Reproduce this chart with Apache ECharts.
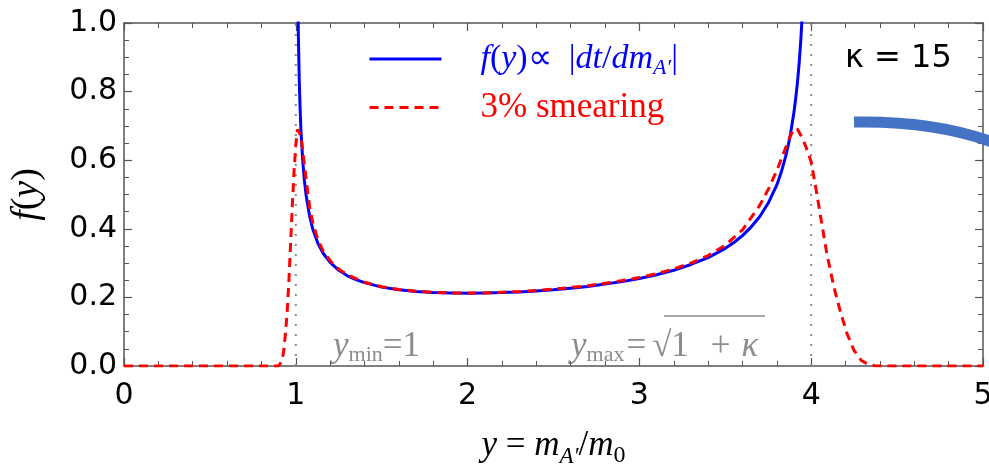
<!DOCTYPE html>
<html>
<head>
<meta charset="utf-8">
<script src="https://cdn.jsdelivr.net/npm/echarts@6/dist/echarts.min.js"></script>
<style>
  html, body { margin: 0; padding: 0; background: #fff; }
  #chart { width: 989px; height: 471px; }
</style>
</head>
<body>
<div id="chart"></div>
<script>
// f(y) ∝ |dt/dm_A'|
const blueX = [1.005, 1.01, 1.015, 1.02, 1.025, 1.03, 1.04, 1.05, 1.06, 1.08, 1.10, 1.13, 1.16, 1.20, 1.25, 1.30, 1.35, 1.40, 1.50, 1.60, 1.70, 1.80, 1.90, 2.00, 2.10, 2.20, 2.30, 2.40, 2.50, 2.60, 2.70, 2.80, 2.90, 3.00, 3.10, 3.20, 3.30, 3.40, 3.50, 3.55, 3.60, 3.65, 3.70, 3.75, 3.80, 3.825, 3.85, 3.865, 3.88, 3.90, 3.91, 3.92, 3.93, 3.94, 3.95, 3.96];
const blueY = [1.650, 1.172, 0.961, 0.835, 0.750, 0.687, 0.600, 0.541, 0.498, 0.438, 0.397, 0.356, 0.328, 0.302, 0.279, 0.263, 0.252, 0.243, 0.230, 0.222, 0.217, 0.214, 0.213, 0.212, 0.213, 0.214, 0.216, 0.219, 0.222, 0.227, 0.232, 0.239, 0.246, 0.255, 0.266, 0.279, 0.296, 0.316, 0.343, 0.360, 0.380, 0.405, 0.435, 0.475, 0.528, 0.564, 0.608, 0.640, 0.678, 0.741, 0.781, 0.827, 0.884, 0.954, 1.044, 1.166];
// 3% smearing
const redX = [0, 0.90, 0.92, 0.93, 0.94, 0.95, 0.96, 0.97, 0.98, 0.99, 1.00, 1.01, 1.02, 1.03, 1.04, 1.06, 1.08, 1.10, 1.13, 1.16, 1.20, 1.25, 1.30, 1.40, 1.50, 1.60, 1.70, 1.80, 1.90, 2.00, 2.10, 2.20, 2.30, 2.40, 2.50, 2.60, 2.70, 2.80, 2.90, 3.00, 3.10, 3.20, 3.30, 3.40, 3.50, 3.60, 3.70, 3.75, 3.80, 3.85, 3.88, 3.90, 3.92, 3.95, 3.98, 4.00, 4.03, 4.06, 4.09, 4.13, 4.17, 4.21, 4.25, 4.29, 4.33, 4.37, 4.40, 5.00];
const redY = [0, 0, 0.015, 0.045, 0.095, 0.16, 0.25, 0.36, 0.47, 0.57, 0.645, 0.69, 0.695, 0.67, 0.63, 0.545, 0.465, 0.415, 0.366, 0.335, 0.307, 0.282, 0.266, 0.244, 0.231, 0.223, 0.218, 0.215, 0.213, 0.213, 0.213, 0.215, 0.217, 0.220, 0.224, 0.229, 0.234, 0.241, 0.249, 0.258, 0.269, 0.283, 0.300, 0.322, 0.352, 0.397, 0.468, 0.515, 0.570, 0.635, 0.672, 0.692, 0.690, 0.663, 0.625, 0.595, 0.51, 0.42, 0.33, 0.235, 0.158, 0.092, 0.045, 0.017, 0.005, 0.001, 0, 0];
// y_min and y_max guides
const guideX = [1, 4];
const xTicks = [0, 1, 2, 3, 4, 5];
const yTicks = [0, 0.2, 0.4, 0.6, 0.8, 1.0];

const chart = echarts.init(document.getElementById("chart"), null, { renderer: "canvas" });

const frameColor = "#555";
const serif = "Liberation Serif";
const gray = "#8c8c8c";

function axisBase(show) {
  return {
    type: "value",
    axisLine: { show: true, onZero: false, lineStyle: { color: frameColor, width: 1.5 } },
    axisTick: { show: true, inside: true, length: 8, lineStyle: { color: frameColor, width: 1.2 } },
    minorTick: { show: true, length: 5, lineStyle: { color: frameColor, width: 1 } },
    splitLine: { show: false },
    axisLabel: { show: show, color: "#000", fontFamily: "DejaVu Sans", fontSize: 30 },
  };
}

const xMain = Object.assign(axisBase(true), {
  position: "bottom",
  min: xTicks[0], max: xTicks[xTicks.length - 1], interval: 1,
  name: "{i|y}{n| = }{i|m}{s|A\u2032}{n|/}{i|m}{z|0}",
  nameLocation: "middle",
  nameGap: 58,
  nameTextStyle: {
    rich: {
      i: { fontFamily: serif, fontStyle: "italic", fontSize: 35, color: "#000", lineHeight: 44 },
      n: { fontFamily: serif, fontSize: 35, color: "#000", lineHeight: 44 },
      s: { fontFamily: serif, fontStyle: "italic", fontSize: 23, color: "#000", lineHeight: 20, verticalAlign: "bottom" },
      z: { fontFamily: serif, fontSize: 24, color: "#000", lineHeight: 20, verticalAlign: "bottom" },
    },
  },
});
xMain.axisLabel.margin = 15;
xMain.minorTick.splitNumber = 5;

const xTop = Object.assign(axisBase(false), { position: "top", min: 0, max: 5, interval: 1 });
xTop.minorTick.splitNumber = 5;

const yMain = Object.assign(axisBase(true), {
  position: "left",
  min: yTicks[0], max: yTicks[yTicks.length - 1], interval: 0.2,
  name: "{i|f}{n|(}{i|y}{n|)}",
  nameLocation: "middle",
  nameGap: 78,
  nameRotate: 90,
  nameTextStyle: {
    rich: {
      i: { fontFamily: serif, fontStyle: "italic", fontSize: 38, color: "#000" },
      n: { fontFamily: serif, fontSize: 38, color: "#000" },
    },
  },
});
yMain.axisLabel.margin = 7;
yMain.axisLabel.formatter = (v) => v.toFixed(1);
yMain.minorTick.splitNumber = 4;

const yRight = Object.assign(axisBase(false), { position: "right", min: 0, max: 1, interval: 0.2 });
yRight.minorTick.splitNumber = 4;

const legendRich = {
  bi: { fontFamily: serif, fontStyle: "italic", fontSize: 34, color: "#0000ff", lineHeight: 40 },
  bn: { fontFamily: serif, fontSize: 34, color: "#0000ff", lineHeight: 40 },
  bs: { fontFamily: serif, fontStyle: "italic", fontSize: 22, color: "#0000ff", lineHeight: 18, verticalAlign: "bottom" },
  r: { fontFamily: serif, fontSize: 35, color: "#ff0000", lineHeight: 40 },
};

const noteRich = {
  i: { fontFamily: serif, fontStyle: "italic", fontSize: 35, fill: gray, lineHeight: 40 },
  n: { fontFamily: serif, fontSize: 35, fill: gray, lineHeight: 40 },
  e: { fontFamily: serif, fontSize: 35, fill: gray, lineHeight: 40, padding: [0, 6, 0, 2] },
  p: { fontFamily: serif, fontSize: 35, fill: gray, lineHeight: 40, padding: [0, 11, 0, 22] },
  s: { fontFamily: serif, fontSize: 22, fill: gray, lineHeight: 20, verticalAlign: "bottom" },
};

const option = {
  animation: false,
  backgroundColor: "#fff",
  grid: { left: 124, right: 6, top: 23, bottom: 105, outerBoundsMode: "none", containLabel: false },
  xAxis: [xMain, xTop],
  yAxis: [yMain, yRight],
  legend: {
    orient: "vertical",
    left: 363,
    top: 37,
    itemWidth: 72,
    itemHeight: 14,
    itemGap: 11,
    itemStyle: { opacity: 0 },
    lineStyle: { width: 3 },
    data: ["f(y) \u221d |dt/dm|", "3% smearing"],
    formatter: (name) =>
      name === "3% smearing"
        ? "{r|3% smearing}"
        : "{bi|f}{bn|(}{bi|y}{bn|)\u221d  |}{bi|dt}{bn|/}{bi|dm}{bs|A\u2032}{bn||}",
    textStyle: { padding: [0, 0, 0, 34], rich: legendRich },
  },
  graphic: [
    {
      type: "text", left: 845, top: 43,
      style: { text: "\u03ba = 15", font: "32px 'DejaVu Sans'", fill: "#000" },
    },
    {
      type: "text", left: 333, top: 329,
      style: { text: "{i|y}{s|min}{n|=1}", rich: noteRich },
    },
    {
      type: "text", left: 571, top: 329,
      style: { text: "{i|y}{s|max}{e|=}{n|\u221a1}{p|+}{i|\u03ba}", rich: noteRich },
    },
    {
      type: "line",
      shape: { x1: 664, y1: 316, x2: 765, y2: 316 },
      style: { stroke: gray, lineWidth: 1.5 },
    },
    {
      type: "bezierCurve",
      shape: { x1: 854, y1: 122, cpx1: 910, cpy1: 121, cpx2: 955, cpy2: 128, x2: 995, y2: 143 },
      style: { stroke: "#4472C4", lineWidth: 11, fill: null },
      z: 100,
    },
  ],
  series: [
    ...guideX.map((gx) => ({
      type: "line",
      data: [[gx, 0], [gx, 1]],
      showSymbol: false,
      symbol: "none",
      silent: true,
      lineStyle: { color: gray, width: 2, type: [2, 8] },
      z: 1,
    })),
    {
      name: "f(y) \u221d |dt/dm|",
      type: "line",
      data: blueX.map((x, i) => [x, blueY[i]]),
      symbol: "none",
      lineStyle: { color: "#0000ff", width: 3 },
      itemStyle: { color: "#0000ff" },
      z: 3,
    },
    {
      name: "3% smearing",
      type: "line",
      data: redX.map((x, i) => [x, redY[i]]),
      symbol: "none",
      lineStyle: { color: "#ff0000", width: 3, type: [9, 6] },
      itemStyle: { color: "#ff0000" },
      z: 4,
    },
  ],
};

chart.setOption(option);
</script>
</body>
</html>
